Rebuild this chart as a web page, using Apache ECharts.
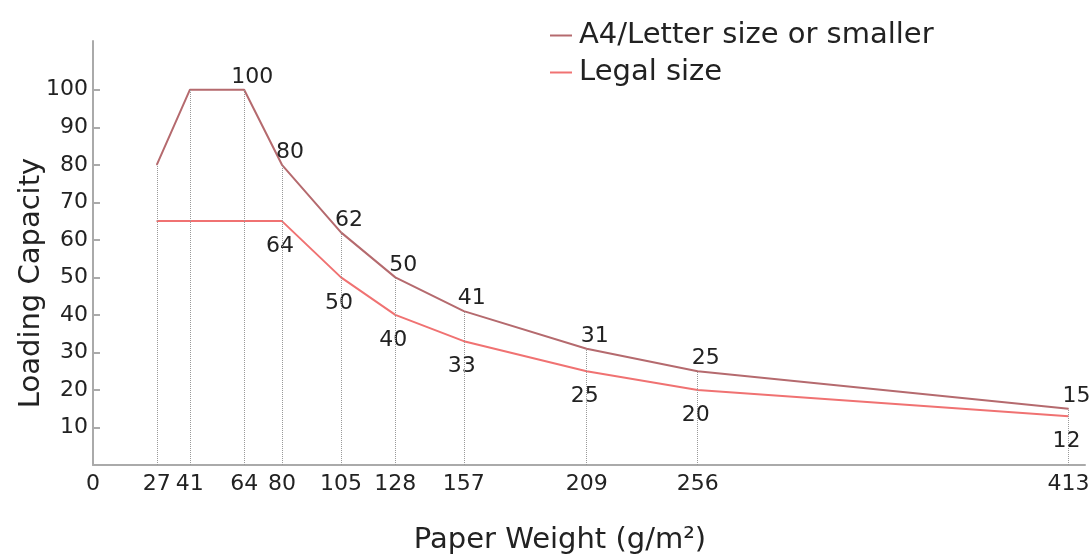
<!DOCTYPE html>
<html>
<head>
<meta charset="utf-8">
<script src="https://cdn.jsdelivr.net/npm/echarts@6/dist/echarts.min.js"></script>
<style>
html, body { margin: 0; padding: 0; background: #fff; }
#chart { width: 1089px; height: 556px; }
</style>
</head>
<body>
<div id="chart"></div>
<script>
// paper weights (g/m2) where the capacity is given
var weights = [27, 41, 64, 80, 105, 128, 157, 209, 256, 413];
var a4Values = [80, 100, 100, 80, 62, 50, 41, 31, 25, 15];
var legalValues = [65, 65, 65, 65, 50, 40, 33, 25, 20, 13];
// texts written next to the points ('' = no text)
var a4Labels = ['', '', '100', '80', '62', '50', '41', '31', '25', '15'];
var legalLabels = ['', '', '', '64', '50', '40', '33', '25', '20', '12'];
var xTicks = [0, 27, 41, 64, 80, 105, 128, 157, 209, 256, 413];
var yTicks = [10, 20, 30, 40, 50, 60, 70, 80, 90, 100];

var FONT = 'DejaVu Sans';

function pairs(vals) {
	var out = [];
	for (var i = 0; i < weights.length; i++) out.push([weights[i], vals[i]]);
	return out;
}

// dotted guides from the axis up to the A4 curve
var guides = [];
for (var i = 0; i < weights.length; i++) {
	guides.push([{coord: [weights[i], 0]}, {coord: [weights[i], a4Values[i]]}]);
}

var chart = echarts.init(document.getElementById('chart'));
var option = {
	animation: false,
	textStyle: {fontFamily: FONT},
	grid: {left: 93, right: 4, top: 41, bottom: 91, outerBoundsMode: 'none', containLabel: false},
	legend: {
		orient: 'vertical',
		left: 545,
		top: 16,
		itemWidth: 22,
		itemHeight: 2,
		itemGap: 8,
		icon: 'rect',
		textStyle: {fontSize: 29, color: '#222', fontFamily: FONT, padding: [0, 0, 0, 2]},
		data: ['A4/Letter size or smaller', 'Legal size']
	},
	xAxis: {
		type: 'value',
		min: 0,
		max: 420,
		name: 'Paper Weight (g/m²)',
		nameLocation: 'middle',
		nameGap: 61,
		nameMoveOverlap: false,
		nameTextStyle: {fontSize: 29, color: '#222', fontFamily: FONT, padding: [0, 58, 0, 0]},
		axisLine: {lineStyle: {color: '#aaa', width: 2}},
		axisTick: {show: false},
		splitLine: {show: false},
		axisLabel: {
			customValues: xTicks,
			fontSize: 22,
			color: '#222',
			margin: 8,
			fontFamily: FONT
		}
	},
	yAxis: {
		type: 'value',
		min: 0,
		max: 113,
		name: 'Loading Capacity',
		nameLocation: 'middle',
		nameGap: 47,
		nameMoveOverlap: false,
		nameTextStyle: {fontSize: 29, color: '#222', fontFamily: FONT, padding: [0, 60, 0, 0]},
		axisLine: {show: true, lineStyle: {color: '#aaa', width: 2}},
		axisTick: {show: true, inside: true, length: 7, customValues: yTicks, lineStyle: {color: '#aaa', width: 2}},
		splitLine: {show: false},
		axisLabel: {
			customValues: yTicks,
			fontSize: 22,
			color: '#222',
			margin: 5,
			fontFamily: FONT
		}
	},
	series: [{
		name: 'A4/Letter size or smaller',
		type: 'line',
		data: pairs(a4Values),
		symbol: 'circle',
		symbolSize: 1,
		color: '#b56a6e',
		lineStyle: {width: 2, color: '#b56a6e'},
		label: {
			show: true,
			position: 'top',
			distance: 1,
			offset: [8, 0],
			fontSize: 22,
			color: '#222',
			fontFamily: FONT,
			formatter: function (p) { return a4Labels[p.dataIndex]; }
		},
		markLine: {
			silent: true,
			symbol: 'none',
			label: {show: false},
			lineStyle: {type: 'dotted', color: '#999', width: 1},
			data: guides
		},
		z: 3
	}, {
		name: 'Legal size',
		type: 'line',
		data: pairs(legalValues),
		symbol: 'circle',
		symbolSize: 1,
		color: '#f07272',
		lineStyle: {width: 2, color: '#f07272'},
		label: {
			show: true,
			position: 'bottom',
			distance: 14,
			offset: [-2, 0],
			fontSize: 22,
			color: '#222',
			fontFamily: FONT,
			backgroundColor: '#fff',
			padding: [0, 1],
			formatter: function (p) { return legalLabels[p.dataIndex]; }
		},
		z: 2
	}]
};
chart.setOption(option);
window.addEventListener('resize', chart.resize);
</script>
</body>
</html>
